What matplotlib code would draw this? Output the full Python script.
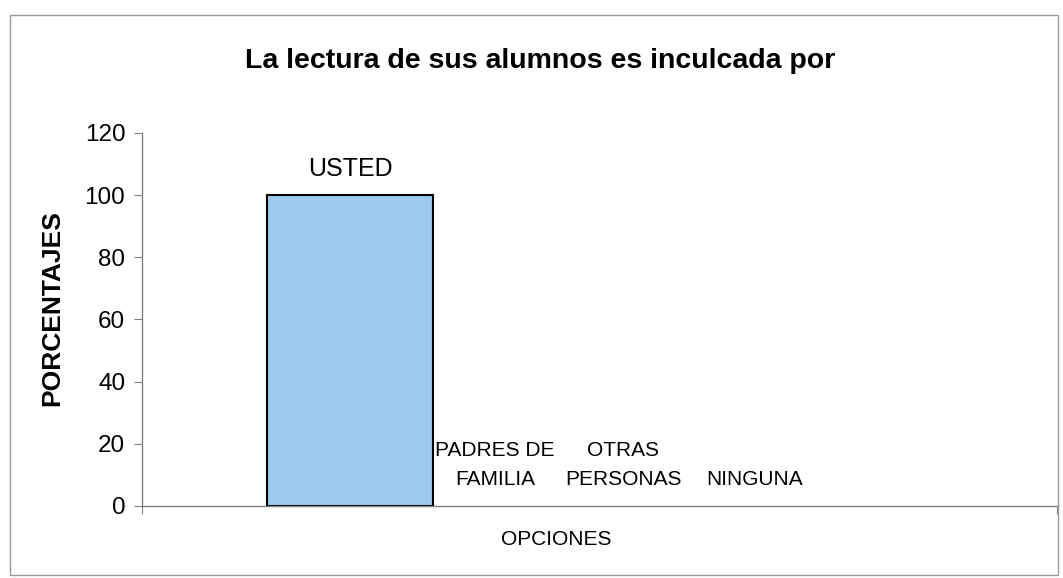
import numpy as np
import matplotlib.pyplot as plt
from matplotlib.patches import Rectangle

plt.rcParams['font.family'] = ['Liberation Sans', 'DejaVu Sans']

opciones = ['USTED', 'PADRES DE\nFAMILIA', 'OTRAS\nPERSONAS', 'NINGUNA']
porcentajes = [100, 0, 0, 0]
yticks = [0, 20, 40, 60, 80, 100, 120]

gris = '#808080'

fig = plt.figure(figsize=(10.63, 5.78), dpi=100)
ax = fig.add_axes([0.1336, 0.1246, 0.8608, 0.6454])

x = np.arange(len(opciones))
bordes = ['black' if v > 0 else 'none' for v in porcentajes]
barras = ax.bar(x, porcentajes, width=1.27, color='#9dc8ef', edgecolor=bordes, linewidth=1.5)

# etiquetas con el nombre de la opcion encima de cada barra
# (las de las opciones vacias salen mas estrechas en el original)
desplaz = [0, 10, 8, 8]
for b, txt, dx, v in zip(barras, opciones, desplaz, porcentajes):
    if v > 0:
        ax.annotate(txt, (b.get_x() + b.get_width() / 2, v),
                    xytext=(dx, 10), textcoords='offset points',
                    ha='center', va='bottom', fontsize=18)
    else:
        ax.annotate(txt, (b.get_x() + b.get_width() / 2, v),
                    xytext=(dx, 12), textcoords='offset points',
                    ha='center', va='bottom', fontsize=15, linespacing=1.7)

ax.set_xlim(-1.588, 5.397)
ax.set_ylim(0, 120)
ax.set_yticks(yticks)
ax.set_xticks([-1.588, 5.397])
ax.set_xticklabels([])
ax.tick_params(axis='y', labelsize=17.5, length=6, color=gris, pad=6)
ax.tick_params(axis='x', length=6, color=gris)

for s in ['top', 'right']:
    ax.spines[s].set_visible(False)
for s in ['left', 'bottom']:
    ax.spines[s].set_color(gris)
    ax.spines[s].set_linewidth(1)

ax.set_ylabel('PORCENTAJES', fontsize=19, fontweight='bold')
ax.yaxis.set_label_coords(-0.085, 0.53)
ax.set_xlabel('OPCIONES', fontsize=15)
ax.xaxis.set_label_coords(0.4525, -0.065)

fig.text(0.508, 0.895, 'La lectura de sus alumnos es inculcada por',
         ha='center', va='center', fontsize=20.5, fontweight='bold')

# marco del grafico
fig.patches.append(Rectangle((10 / 1063, 0.005), 1048 / 1063, 0.969,
                             transform=fig.transFigure, fill=False,
                             edgecolor='#9a9a9a', linewidth=1))

fig.savefig('out.png', dpi=100)
